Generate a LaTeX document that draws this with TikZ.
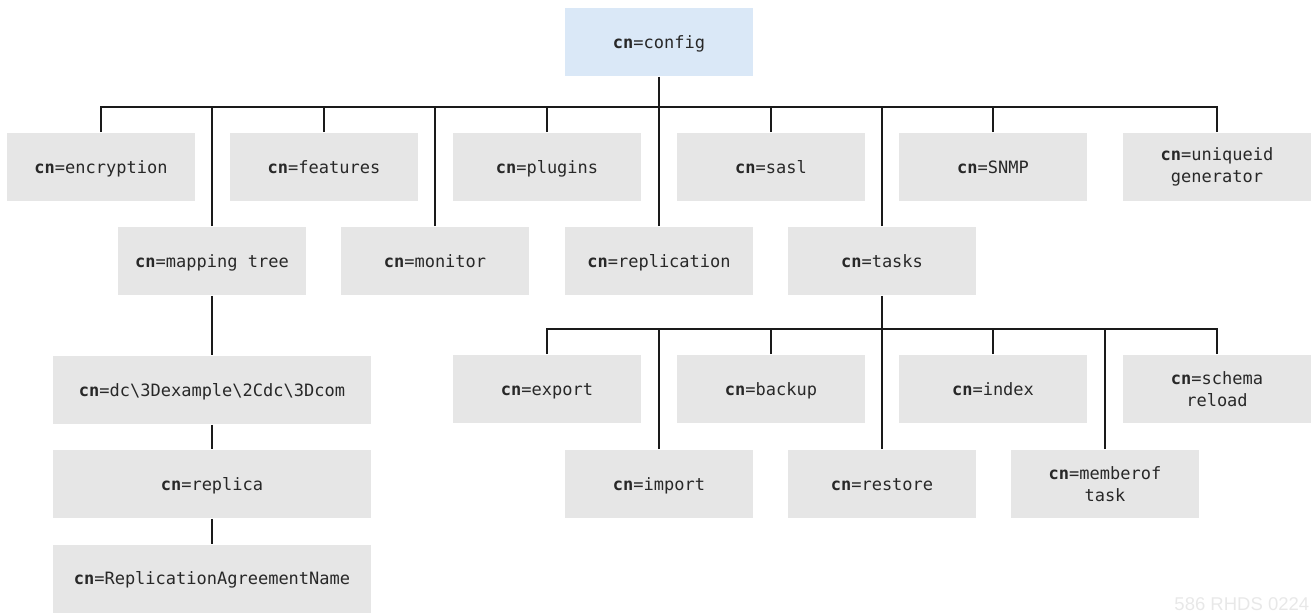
\documentclass[tikz,border=0pt]{standalone}
\usepackage{fontspec}
\setmonofont{DejaVu Sans Mono}
\setsansfont{Liberation Sans}
\usepackage{tikz}
\definecolor{boxgray}{RGB}{230,230,230}
\definecolor{rootblue}{RGB}{218,232,247}
\definecolor{linegray}{RGB}{26,26,26}
\definecolor{textgray}{RGB}{40,40,40}
\definecolor{markgray}{RGB}{232,232,232}
\newcommand{\cnlabel}[1]{\textbf{cn}=#1}

\begin{document}
\begin{tikzpicture}[x=1pt,y=-1pt,line width=1.6pt,
	entry node/.style={rectangle,fill=boxgray,text=textgray,minimum width=188pt,minimum height=68pt,inner sep=0pt,align=center,text height=14pt,text depth=1.5pt,font=\ttfamily\fontsize{17}{22}\selectfont},
	pair node/.style={entry node,text height={},text depth={}},
	root node/.style={entry node,fill=rootblue},
	wide node/.style={entry node,minimum width=318pt}]

	\useasboundingbox (0,0) rectangle (1311,613);

	\node[root node] (config) at (659,42) {\cnlabel{config}};

	\node[entry node] (encryption) at (101,167) {\cnlabel{encryption}};
	\node[entry node] (features) at (324,167) {\cnlabel{features}};
	\node[entry node] (plugins) at (547,167) {\cnlabel{plugins}};
	\node[entry node] (sasl) at (771,167) {\cnlabel{sasl}};
	\node[entry node] (snmp) at (993,167) {\cnlabel{SNMP}};
	\node[pair node] (uniqueid) at (1217,167) {\cnlabel{uniqueid}\\generator};

	\node[entry node] (mapping) at (212,261) {\cnlabel{mapping tree}};
	\node[entry node] (monitor) at (435,261) {\cnlabel{monitor}};
	\node[entry node] (replication) at (659,261) {\cnlabel{replication}};
	\node[entry node] (tasks) at (882,261) {\cnlabel{tasks}};

	\node[wide node] (suffix) at (212,390) {\cnlabel{dc\textbackslash3Dexample\textbackslash2Cdc\textbackslash3Dcom}};
	\node[wide node] (replica) at (212,484) {\cnlabel{replica}};
	\node[wide node] (agreement) at (212,578.5) {\cnlabel{ReplicationAgreementName}};

	\node[entry node] (export) at (547,389) {\cnlabel{export}};
	\node[entry node] (backup) at (771,389) {\cnlabel{backup}};
	\node[entry node] (index) at (993,389) {\cnlabel{index}};
	\node[pair node] (schema) at (1217,389) {\cnlabel{schema}\\reload};

	\node[entry node] (import) at (659,484) {\cnlabel{import}};
	\node[entry node] (restore) at (882,484) {\cnlabel{restore}};
	\node[pair node] (memberof) at (1105,484) {\cnlabel{memberof}\\task};

	\coordinate (topbus) at (659,107);
	\coordinate (taskbus) at (882,329);

	% config children
	\draw[linegray] (config.south) -- (topbus);
	\foreach \child in {encryption,mapping,features,monitor,plugins,replication,sasl,tasks,snmp,uniqueid}
		\draw[linegray] (\child.north) |- (topbus);

	% tasks children
	\draw[linegray] (tasks.south) -- (taskbus);
	\foreach \child in {export,import,backup,restore,index,memberof,schema}
		\draw[linegray] (\child.north) |- (taskbus);

	% mapping tree chain
	\draw[linegray] (mapping.south) -- (suffix.north);
	\draw[linegray] (suffix.south) -- (replica.north);
	\draw[linegray] (replica.south) -- (agreement.north);

	\node[anchor=base east,inner sep=0pt,text=markgray,font=\sffamily\fontsize{18.5}{20}\selectfont] (mark) at (1310,610) {586 RHDS 0224};
\end{tikzpicture}
\end{document}
